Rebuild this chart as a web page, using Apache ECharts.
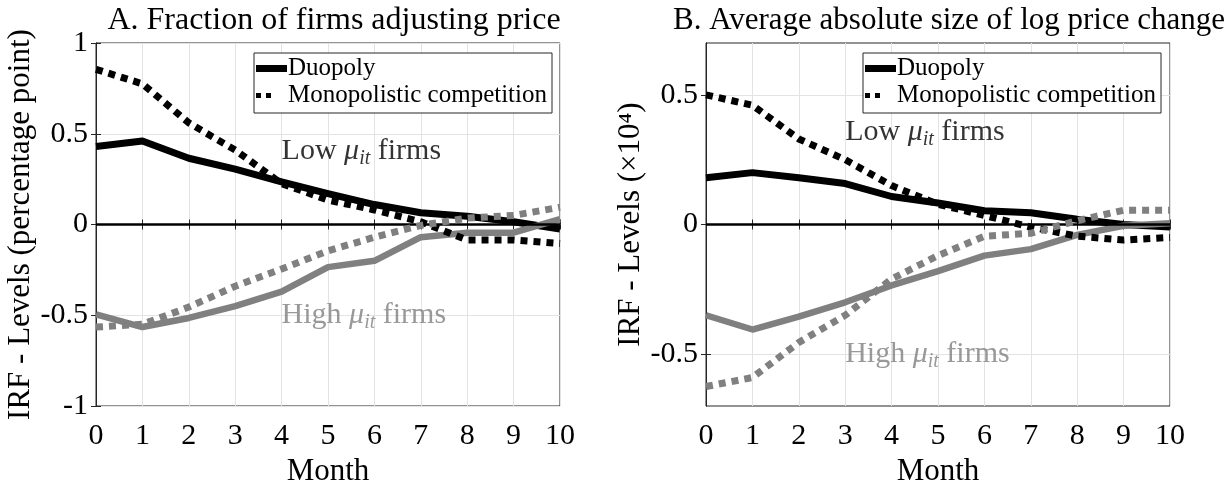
<!DOCTYPE html>
<html>
<head>
<meta charset="utf-8">
<script src="https://cdn.jsdelivr.net/npm/echarts@6/dist/echarts.min.js"></script>
<style>
html,body{margin:0;padding:0;background:#fff;}
#chart{width:1229px;height:480px;}
</style>
</head>
<body>
<div id="chart"></div>
<script>
// ---- data ----
const months = [0, 1, 2, 3, 4, 5, 6, 7, 8, 9, 10];

// Panel A: Fraction of firms adjusting price
const aDuoLow   = [0.43, 0.46, 0.365, 0.305, 0.235, 0.17, 0.11, 0.065, 0.045, 0.015, -0.025];
const aMonoLow  = [0.855, 0.775, 0.56, 0.41, 0.225, 0.135, 0.08, 0.015, -0.085, -0.085, -0.105];
const aDuoHigh  = [-0.495, -0.565, -0.515, -0.45, -0.37, -0.235, -0.2, -0.07, -0.045, -0.045, 0.03];
const aMonoHigh = [-0.565, -0.55, -0.455, -0.34, -0.245, -0.145, -0.07, -0.005, 0.035, 0.05, 0.095];

// Panel B: Average absolute size of log price change (x10^4)
const bDuoLow   = [0.18, 0.2, 0.18, 0.158, 0.108, 0.083, 0.053, 0.045, 0.02, 0.0, -0.01];
const bMonoLow  = [0.5, 0.46, 0.33, 0.25, 0.15, 0.078, 0.035, -0.01, -0.045, -0.06, -0.05];
const bDuoHigh  = [-0.35, -0.405, -0.355, -0.3, -0.235, -0.18, -0.12, -0.095, -0.04, -0.005, 0.005];
const bMonoHigh = [-0.625, -0.59, -0.455, -0.35, -0.21, -0.12, -0.045, -0.034, 0.015, 0.055, 0.055];

const titles = ['A. Fraction of firms adjusting price', 'B. Average absolute size of log price change'];
const yNames = ['IRF - Levels (percentage point)', 'IRF - Levels (\u00d710\u2074)'];
const xName = 'Month';
const legendNames = ['Duopoly', 'Monopolistic competition'];
const yTicksA = [-1, -0.5, 0, 0.5, 1];
const yTicksB = [-0.5, 0, 0.5];
// annotations: [panel, month, value, kind]
const annotations = [
  [0, 4, 0.405, 'low'], [0, 4, -0.5, 'high'],
  [1, 3, 0.355, 'low'], [1, 3, -0.5, 'high']
];

// ---- styling ----
const FONT = 'Liberation Serif';
const BLACK = '#000000';
const GRAY = '#808080';
const AXC = '#262626';
const GRIDC = '#e3e3e3';

const chart = echarts.init(document.getElementById('chart'), null, {renderer: 'canvas'});

const grids = [
  {left: 96, top: 43, width: 464, height: 363, show: true, borderColor: AXC, borderWidth: 1,
    containLabel: false, outerBoundsMode: 'none'},
  {left: 706, top: 43, width: 464, height: 363, show: true, borderColor: AXC, borderWidth: 1,
    containLabel: false, outerBoundsMode: 'none'}
];

function xAx(gi, pos) {
  const main = pos === 'bottom';
  return {
    type: 'value', gridIndex: gi, position: pos, min: 0, max: 10, interval: 1,
    name: main ? xName : '', nameLocation: 'middle', nameGap: 44,
    nameTextStyle: {fontFamily: FONT, fontSize: 31, color: '#000'},
    axisLine: {show: true, lineStyle: {color: AXC, width: 1}},
    axisTick: {show: true, inside: true, length: 5, lineStyle: {color: AXC}},
    axisLabel: {show: main, fontFamily: FONT, fontSize: 30, color: '#000', margin: 15},
    splitLine: {show: main, lineStyle: {color: GRIDC, width: 1}}
  };
}
function yAx(gi, pos, ticks, mn, mx) {
  const main = pos === 'left';
  return {
    type: 'value', gridIndex: gi, position: pos, min: mn, max: mx,
    name: main ? yNames[gi] : '', nameLocation: 'middle', nameGap: 53,
    nameTextStyle: {fontFamily: FONT, fontSize: 31, color: '#000'},
    axisLine: {show: true, lineStyle: {color: AXC, width: 1}},
    axisTick: {show: true, inside: true, length: 5, customValues: ticks, lineStyle: {color: AXC}},
    axisLabel: {show: main, customValues: ticks, fontFamily: FONT, fontSize: 30, color: '#000', margin: 8,
      formatter: v => String(Math.round(v * 10) / 10)},
    splitLine: {show: main, lineStyle: {color: GRIDC, width: 1}}
  };
}

const xAxes = [xAx(0, 'bottom'), xAx(0, 'top'), xAx(1, 'bottom'), xAx(1, 'top')];
const yAxes = [yAx(0, 'left', yTicksA, -1, 1), yAx(0, 'right', yTicksA, -1, 1),
               yAx(1, 'left', yTicksB, -0.7, 0.7), yAx(1, 'right', yTicksB, -0.7, 0.7)];

function pairs(arr) { return months.map((m, i) => [m, arr[i]]); }

function lineSeries(name, data, xi, yi, color, dotted, z, width) {
  return {
    type: 'line', name: name, xAxisIndex: xi, yAxisIndex: yi, data: pairs(data),
    showSymbol: false, symbol: 'none', silent: true, animation: false, z: z,
    lineStyle: {color: color, width: width, type: dotted ? [7, 6] : 'solid', cap: 'butt', join: 'round'},
    itemStyle: {color: color}
  };
}

const richLabel = (color) => ({
  n: {fontFamily: FONT, fontSize: 30, color: color},
  m: {fontFamily: FONT, fontSize: 30, fontStyle: 'italic', color: color},
  s: {fontFamily: FONT, fontSize: 20, fontStyle: 'italic', color: color, padding: [15, 0, 0, 0]}
});

function zeroLineSeries(xi, yi) {
  return {
    type: 'line', name: 'zero', xAxisIndex: xi, yAxisIndex: yi, data: [], silent: true, animation: false, z: 1,
    markLine: {silent: true, symbol: 'none', animation: false, label: {show: false},
      lineStyle: {color: '#000', width: 2.5, type: 'solid'}, data: [{yAxis: 0}]}
  };
}

function annotationSeries(panel) {
  const xi = panel * 2, yi = panel * 2;
  const items = annotations.filter(a => a[0] === panel).map(a => {
    const c = a[3] === 'low' ? '#000' : GRAY;
    const word = a[3] === 'low' ? 'Low' : 'High';
    return {
      value: [a[1], a[2]],
      label: {show: true, position: 'right', distance: 0, color: c,
        formatter: '{n|' + word + ' }{m|\u03bc}{s|it}{n| firms}', rich: richLabel(c)}
    };
  });
  return {
    type: 'scatter', name: 'annot' + panel, xAxisIndex: xi, yAxisIndex: yi, symbolSize: 0,
    silent: true, animation: false, z: 20, data: items
  };
}

const series = [
  zeroLineSeries(0, 0), zeroLineSeries(2, 2),
  lineSeries('Duopoly', aDuoLow, 0, 0, BLACK, false, 3, 7),
  lineSeries('Duopoly high', aDuoHigh, 0, 0, GRAY, false, 4, 6.5),
  lineSeries('Monopolistic competition', aMonoLow, 0, 0, BLACK, true, 5, 7),
  lineSeries('Mono high', aMonoHigh, 0, 0, GRAY, true, 6, 7),
  lineSeries('Duopoly', bDuoLow, 2, 2, BLACK, false, 3, 7),
  lineSeries('Duopoly high', bDuoHigh, 2, 2, GRAY, false, 4, 6.5),
  lineSeries('Monopolistic competition', bMonoLow, 2, 2, BLACK, true, 5, 7),
  lineSeries('Mono high', bMonoHigh, 2, 2, GRAY, true, 6, 7),
  annotationSeries(0), annotationSeries(1)
];

function legendAt(left) {
  return {
    show: true, orient: 'vertical', left: left, top: 53, selectedMode: false,
    backgroundColor: '#fff', borderColor: AXC, borderWidth: 1, borderRadius: 0,
    padding: [3, 5, 5, 2], itemGap: 2, itemWidth: 31, itemHeight: 7,
    symbolKeepAspect: false,
    textStyle: {fontFamily: FONT, fontSize: 25, color: '#000', padding: [0, 0, 0, -4]},
    itemStyle: {borderWidth: 0},
    data: [
      {name: legendNames[0], icon: 'path://M0,0H31V7H0Z'},
      {name: legendNames[1], icon: 'path://M0,7M0,1H5V6H0Z M10,1H15V6H10Z M31,0'}
    ],
    z: 30
  };
}

const option = {
  backgroundColor: '#fff',
  animation: false,
  title: [
    {text: titles[0], left: 329, top: 0, textAlign: 'center',
      textStyle: {fontFamily: FONT, fontSize: 32, fontWeight: 'normal', color: '#000'}},
    {text: titles[1], left: 944, top: 0, textAlign: 'center',
      textStyle: {fontFamily: FONT, fontSize: 31, fontWeight: 'normal', color: '#000'}}
  ],
  legend: [legendAt(254), legendAt(863)],
  grid: grids,
  xAxis: xAxes,
  yAxis: yAxes,
  series: series
};
chart.setOption(option);
</script>
</body>
</html>
